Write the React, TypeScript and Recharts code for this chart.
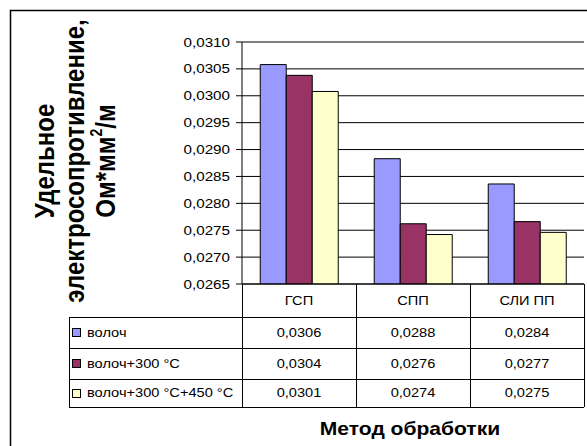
import { Bar, BarChart, CartesianGrid, XAxis, YAxis } from "recharts";

const CATEGORIES = ["ГСП", "СПП", "СЛИ ПП"];
const SERIES_NAMES = ["волоч", "волоч+300 °С", "волоч+300 °С+450 °С"];
const SERIES_COLORS = ["#9999FF", "#993366", "#FFFFCC"];
const VOLOCH = [0.03058, 0.02883, 0.02836];
const VOLOCH_300 = [0.03038, 0.02762, 0.02766];
const VOLOCH_300_450 = [0.03008, 0.02742, 0.02746];
const SERIES_VALUES = [VOLOCH, VOLOCH_300, VOLOCH_300_450];
const Y_TICKS = [0.0265, 0.027, 0.0275, 0.028, 0.0285, 0.029, 0.0295, 0.03, 0.0305, 0.031];

const FONT = "'Liberation Sans', Arial, sans-serif";
// the source picture is stretched sideways, so text is widened a bit
const SX = 1.17;
// table row edges, measured down from the category axis line
const ROW_EDGES = [0, 33, 64, 95, 123];
const LEGEND_COL_W = 173;

const data = CATEGORIES.map((name, i) => ({
  name,
  s0: VOLOCH[i],
  s1: VOLOCH_300[i],
  s2: VOLOCH_300_450[i],
}));

const fmt = (v: number) => v.toFixed(4).replace(".", ",");
const widen = (x: number) => `matrix(${SX},0,0,1,${x * (1 - SX)},0)`;

function TableColumn(props: any) {
  const { x, y, payload, index } = props;
  const half = payload?.offset || 57;
  const left = x - half;
  const right = x + half;
  const line = { stroke: "#000", strokeWidth: 1, shapeRendering: "crispEdges" as const };
  const textStyle = { fontFamily: FONT, fontSize: 12.5, fill: "#000" };
  const rowMid = (r: number) => y + (ROW_EDGES[r] + ROW_EDGES[r + 1]) / 2;
  const legendX = left - LEGEND_COL_W;

  return (
    <g>
      {index === 0 && (
        <g>
          {/* outer chart frame: only its top and left edges are inside the picture */}
          <polyline points="10.5,446 10.5,10.5 587,10.5" fill="none" stroke="#000" strokeWidth={1.5} />
          <line x1={left} x2={left} y1={y} y2={y + ROW_EDGES[4]} {...line} />
          <line x1={legendX} x2={legendX} y1={y + ROW_EDGES[1]} y2={y + ROW_EDGES[4]} {...line} />
          {ROW_EDGES.slice(1).map((r) => (
            <line key={r} x1={legendX} x2={left} y1={y + r} y2={y + r} {...line} />
          ))}
          {SERIES_NAMES.map((n, s) => (
            <g key={n}>
              <rect
                x={legendX + 3.5}
                y={rowMid(s + 1) - 4}
                width={8}
                height={8}
                fill={SERIES_COLORS[s]}
                stroke="#000"
                strokeWidth={1}
                shapeRendering="crispEdges"
              />
              <text
                x={legendX + 18}
                y={rowMid(s + 1)}
                dominantBaseline="central"
                transform={widen(legendX + 18)}
                style={textStyle}
              >
                {n}
              </text>
            </g>
          ))}
        </g>
      )}
      <line x1={right} x2={right} y1={y} y2={y + ROW_EDGES[4]} {...line} />
      {ROW_EDGES.slice(1).map((r) => (
        <line key={r} x1={left} x2={right} y1={y + r} y2={y + r} {...line} />
      ))}
      <text
        x={x}
        y={rowMid(0)}
        textAnchor="middle"
        dominantBaseline="central"
        transform={widen(x)}
        style={textStyle}
      >
        {payload.value}
      </text>
      {SERIES_VALUES.map((vals, s) => (
        <text
          key={s}
          x={x}
          y={rowMid(s + 1)}
          textAnchor="middle"
          dominantBaseline="central"
          transform={widen(x)}
          style={textStyle}
        >
          {fmt(vals[index])}
        </text>
      ))}
    </g>
  );
}

function YTick(props: any) {
  const { x, y, payload } = props;
  return (
    <text
      x={x}
      y={y}
      textAnchor="end"
      dominantBaseline="central"
      transform={widen(x)}
      style={{ fontFamily: FONT, fontSize: 13, fill: "#000" }}
    >
      {fmt(payload.value)}
    </text>
  );
}

function YTitle(props: any) {
  const vb = props.viewBox || { y: 42, height: 242 };
  const cy = vb.y + vb.height / 2 - 2;
  const st = { fontFamily: FONT, fontSize: 24, fontWeight: 700, fill: "#000" };
  const rot = (x: number) => `translate(${x},${cy}) scale(${SX},1) rotate(-90)`;
  return (
    <g>
      <text x={0} y={0} transform={rot(44)} textAnchor="middle" dominantBaseline="central" style={st}>
        Удельное
      </text>
      <text x={0} y={0} transform={rot(74)} textAnchor="middle" dominantBaseline="central" style={st}>
        электросопротивление,
      </text>
      <text x={0} y={0} transform={rot(105)} textAnchor="middle" dominantBaseline="central" style={st}>
        Ом*мм
        <tspan dy={-8} style={{ fontSize: 14 }}>
          2
        </tspan>
        <tspan dy={8}>/м</tspan>
      </text>
    </g>
  );
}

function XTitle(props: any) {
  const vb = props.viewBox || { x: 242, y: 284, width: 342, height: 162 };
  const cx = vb.x + vb.width / 2 - 3;
  return (
    <text
      x={cx}
      y={vb.y + vb.height - 11}
      textAnchor="middle"
      transform={widen(cx)}
      style={{ fontFamily: FONT, fontSize: 18, fontWeight: 700, fill: "#000" }}
    >
      Метод обработки
    </text>
  );
}

export default function App() {
  return (
    <div
      style={{
        position: "absolute",
        left: 0,
        top: 0,
        width: 587,
        height: 446,
        overflow: "hidden",
        background: "#fff",
      }}
    >
      <BarChart
        width={587}
        height={446}
        data={data}
        margin={{ top: 42, right: 3, bottom: 0, left: 182 }}
        barCategoryGap="16%"
        barGap={0}
      >
        <CartesianGrid horizontal vertical={false} stroke="#000" strokeDasharray="" />
        <XAxis
          dataKey="name"
          height={162}
          interval={0}
          axisLine={{ stroke: "#000" }}
          tickLine={false}
          tickSize={0}
          tickMargin={0}
          tick={(p: any) => <TableColumn {...p} />}
          label={(p: any) => <XTitle {...p} />}
        />
        <XAxis
          xAxisId="top"
          orientation="top"
          dataKey="name"
          height={0}
          tick={false}
          tickLine={false}
          axisLine={{ stroke: "#808080" }}
        />
        <YAxis
          type="number"
          domain={[0.0265, 0.031]}
          ticks={Y_TICKS}
          interval={0}
          allowDataOverflow
          width={60}
          axisLine={{ stroke: "#000" }}
          tickLine={{ stroke: "#000" }}
          tickSize={6}
          tickMargin={6}
          tick={(p: any) => <YTick {...p} />}
          label={(p: any) => <YTitle {...p} />}
        />
        <YAxis
          yAxisId="right"
          orientation="right"
          type="number"
          domain={[0, 1]}
          width={0}
          tick={false}
          tickLine={false}
          axisLine={{ stroke: "#808080" }}
        />
        {SERIES_NAMES.map((n, s) => (
          <Bar
            key={n}
            dataKey={`s${s}`}
            name={n}
            fill={SERIES_COLORS[s]}
            stroke="#000"
            strokeWidth={1}
            isAnimationActive={false}
          />
        ))}
      </BarChart>
    </div>
  );
}
